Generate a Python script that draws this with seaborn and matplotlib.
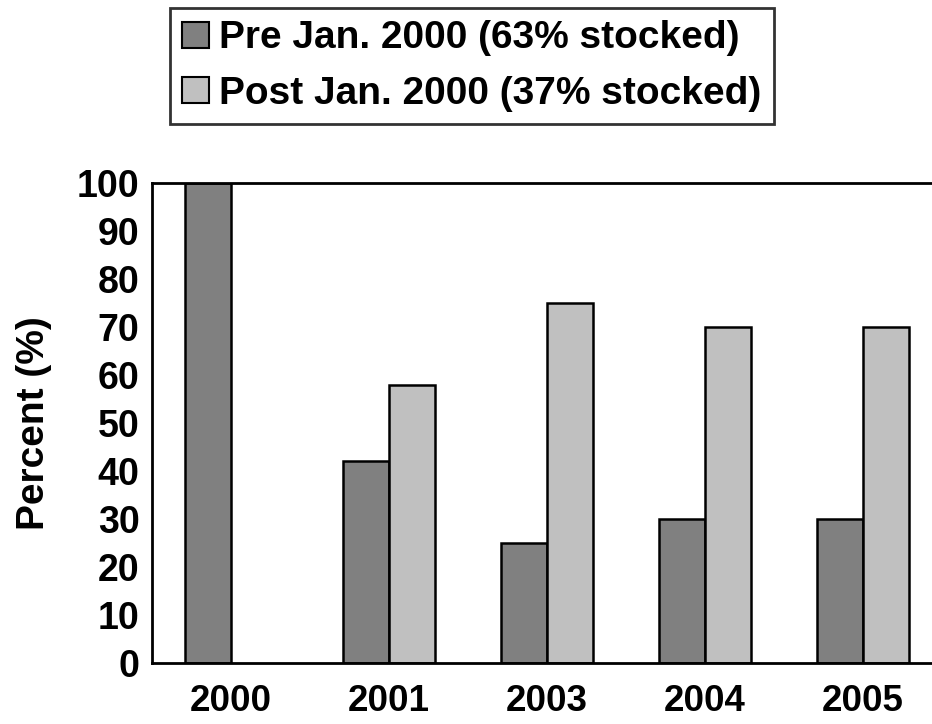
import matplotlib
matplotlib.use("Agg")
import matplotlib.pyplot as plt
import seaborn as sns
import pandas as pd
import numpy as np
from matplotlib.patches import Patch

years = ["2000", "2001", "2003", "2004", "2005"]
pre_vals = [100, 42, 25, 30, 30]
post_vals = [np.nan, 58, 75, 70, 70]
series = ["Pre Jan. 2000 (63% stocked)", "Post Jan. 2000 (37% stocked)"]
colors = ["#808080", "#C0C0C0"]
yticks = [0, 10, 20, 30, 40, 50, 60, 70, 80, 90, 100]

sns.set_style("white")
plt.rcParams['font.family'] = ['Liberation Sans', 'DejaVu Sans']
plt.rcParams['font.weight'] = 'bold'
plt.rcParams['text.color'] = 'black'
plt.rcParams['axes.labelcolor'] = 'black'
plt.rcParams['xtick.color'] = 'black'
plt.rcParams['ytick.color'] = 'black'

df = pd.DataFrame({
    "Year": years * 2,
    "Value": pre_vals + post_vals,
    "Series": [series[0]] * len(years) + [series[1]] * len(years),
})

fig = plt.figure(figsize=(9.32, 7.24), dpi=100)
ax = fig.add_axes([152/932, 61/724, 790/932, 480/724])

sns.barplot(data=df, x="Year", y="Value", hue="Series", order=years,
            hue_order=series, palette=colors, width=0.58, gap=0,
            edgecolor="black", linewidth=1.8, saturation=1, ax=ax, legend=False)

ax.set_xlim(-0.5, 4.5)
ax.set_ylim(0, 100)
ax.set_yticks(yticks)
ax.set_yticklabels([str(v) for v in yticks], fontsize=27, fontweight='bold', color='black')
ax.set_xticks(range(len(years)))
ax.set_xticklabels(years, fontsize=26.5, fontweight='bold', color='black')
ax.tick_params(axis='x', which='major', length=0, pad=15)
ax.set_xticks(np.arange(-0.5, 4.6, 1.0), minor=True)
ax.tick_params(axis='x', which='minor', length=6, width=2, direction='out', color='black')
ax.tick_params(axis='y', which='major', length=6, width=2, direction='out', color='black', pad=3)
ax.set_xlabel("")
ax.set_ylabel("Percent (%)", fontsize=28, fontweight='bold', labelpad=18, color='black')

for s in ["left", "bottom", "top"]:
    ax.spines[s].set_visible(True)
    ax.spines[s].set_color("black")
    ax.spines[s].set_linewidth(2)
ax.spines["right"].set_visible(False)

handles = [Patch(facecolor=c, edgecolor="black", linewidth=1.5) for c in colors]
leg = fig.legend(handles, series, loc="upper left",
                 bbox_to_anchor=(170/932, 1 - 8/724), bbox_transform=fig.transFigure,
                 prop={'size': 28, 'weight': 'bold'}, frameon=True, fancybox=False,
                 handlelength=0.67, handleheight=0.67, handletextpad=0.28,
                 borderpad=0.32, labelspacing=0.5, borderaxespad=0)
leg.get_frame().set_edgecolor("black")
leg.get_frame().set_linewidth(2)
for t in leg.get_texts():
    t.set_color("black")

fig.savefig("out.png", dpi=100)
